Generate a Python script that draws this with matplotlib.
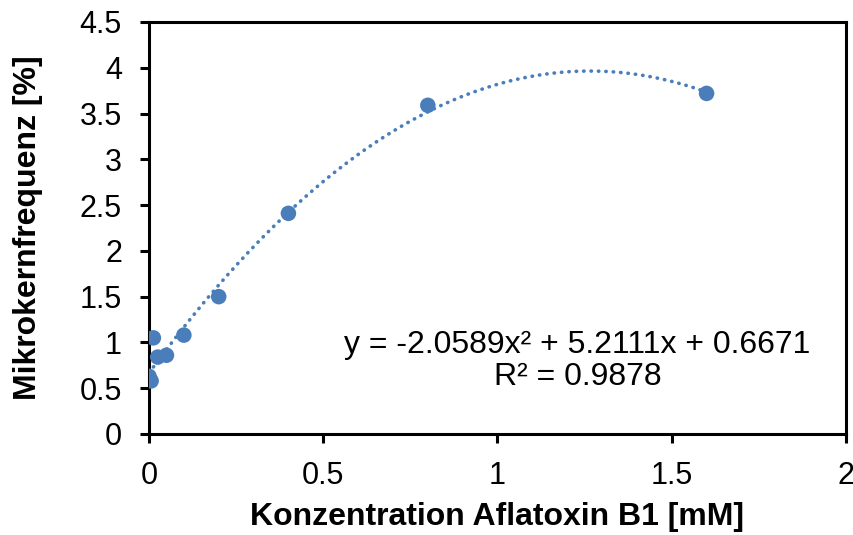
import matplotlib.pyplot as plt
import numpy as np

plt.rcParams['font.family'] = ['Liberation Sans', 'DejaVu Sans']

konz = [0.0, 0.006, 0.0125, 0.025, 0.05, 0.1, 0.2, 0.4, 0.8, 1.6]
mikrokern = [0.63, 0.58, 1.05, 0.84, 0.86, 1.08, 1.50, 2.41, 3.59, 3.72]
coef = [-2.0589, 5.2111, 0.6671]

blue = '#4a7ebb'

fig = plt.figure(figsize=(8.54, 5.35), dpi=100)
ax = fig.add_axes([0.1745, 0.1888, 0.8161, 0.7701])

xs = np.linspace(0, 1.6, 200)
ax.plot(xs, np.polyval(coef, xs), linestyle=(0, (0.1, 1.95)), color=blue,
        linewidth=2.6, dash_capstyle='round')
ax.scatter(konz, mikrokern, s=125, color=blue, zorder=3, edgecolors='none')

ax.set_xlim(0, 2)
ax.set_ylim(0, 4.5)
ax.set_xticks(np.arange(0, 2.01, 0.5))
ax.set_xticklabels(['0', '0.5', '1', '1.5', '2'])
ax.set_yticks(np.arange(0, 4.51, 0.5))
ax.set_yticklabels(['0', '0.5', '1', '1.5', '2', '2.5', '3', '3.5', '4', '4.5'])
ax.tick_params(labelsize=22, width=2.2, length=6.5, direction='out', color='black', pad=13)
for s in ax.spines.values():
    s.set_linewidth(2.2)

ax.set_xlabel('Konzentration Aflatoxin B1 [mM]', fontsize=23, fontweight='bold', labelpad=8)
ax.set_ylabel('Mikrokernfrequenz [%]', fontsize=23, fontweight='bold', labelpad=26)

eq = 'y = -2.0589x² + 5.2111x + 0.6671\nR² = 0.9878'
ax.text(1.23, 0.80, eq, fontsize=23, ha='center', va='center', linespacing=1.1)

fig.savefig('out.png', dpi=100)
